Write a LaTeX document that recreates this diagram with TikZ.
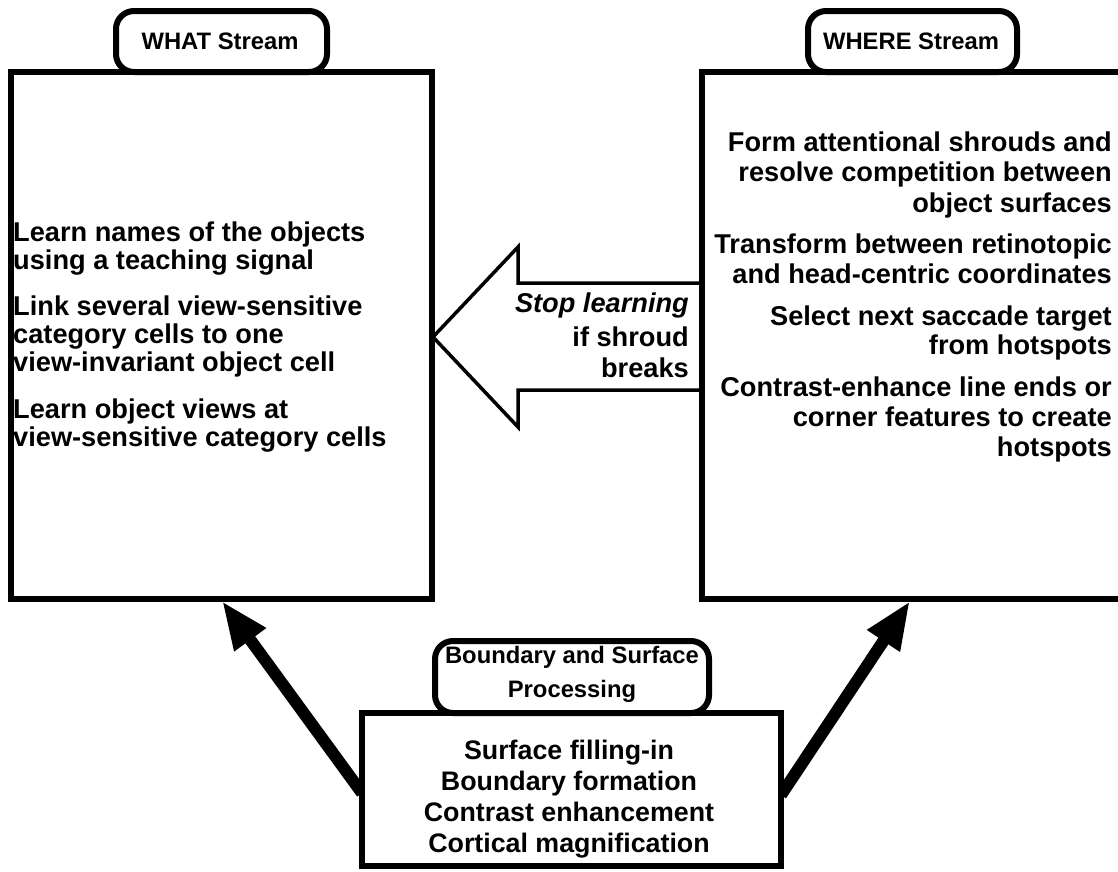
\documentclass[tikz,border=0pt]{standalone}
\usepackage{fontspec}
\setmainfont{Liberation Sans}
\usetikzlibrary{arrows.meta}

\begin{document}
\begin{tikzpicture}[x=1pt,y=-1pt,
  panel/.style={line width=5.5pt},
  titlebox/.style={draw,line width=6pt,rounded corners=18pt,fill=white},
  titletext/.style={inner sep=0pt,font=\fontsize{23.8}{34}\selectfont\bfseries},
  bodyfont/.style={inner sep=0pt,font=\fontsize{27.2}{28}\selectfont\bfseries},
  bodyL/.style={bodyfont,anchor=base west},
  bodyR/.style={bodyfont,anchor=base east},
  bodyC/.style={inner sep=0pt,anchor=base,font=\fontsize{26.8}{28}\selectfont\bfseries},
  feed/.style={line width=12pt,-{Triangle[length=48pt,width=36pt]}},
  hollow/.style={draw,line width=3.5pt,fill=white,line join=miter}
]
\clip (0,0) rectangle (1118,871);

% coordinates of the panels
\coordinate (whatTL) at (11,72);
\coordinate (whatBR) at (432,599);
\coordinate (bspTL) at (362,713);
\coordinate (bspBR) at (781,866);

% feed-forward arrows from the bottom processing stage
\coordinate (fromL) at (362,793);
\coordinate (toL) at (222,601);
\coordinate (fromR) at (781,795);
\coordinate (toR) at (910,601);
\draw[feed] (fromL) -- (toL);
\draw[feed] (fromR) -- (toR);

% hollow feedback arrow between the streams
\draw[hollow] (702,283) -- (518,283) -- (518,247) -- (433,337) -- (518,427) -- (518,390) -- (702,390);

% WHAT panel
\draw[panel] (whatTL) rectangle (whatBR);
% WHERE panel (runs off the right edge)
\draw[panel] (1140,72) -- (702,72) -- (702,599) -- (1140,599);
% bottom panel
\draw[panel,fill=white] (bspTL) rectangle (bspBR);

% title tabs
\draw[titlebox] (116,11) rectangle (327,72);
\node[titletext,anchor=base] (whatT) at (220,49) {WHAT Stream};
\draw[titlebox] (808,11) rectangle (1017,72);
\node[titletext,anchor=base] (whereT) at (911,49) {WHERE Stream};
\draw[titlebox] (435,641) rectangle (709,713);
\node[titletext,anchor=base] (bspT1) at (572,663) {Boundary and Surface};
\node[titletext,anchor=base] (bspT2) at (572,697) {Processing};

% WHAT stream text
\node[bodyL] (w1) at (13,241) {Learn names of the objects};
\node[bodyL] (w2) at (13,269) {using a teaching signal};
\node[bodyL] (w3) at (13,315) {Link several view-sensitive};
\node[bodyL] (w4) at (13,343) {category cells to one};
\node[bodyL] (w5) at (13,371) {view-invariant object cell};
\node[bodyL] (w6) at (13,418) {Learn object views at};
\node[bodyL] (w7) at (13,446) {view-sensitive category cells};

% WHERE stream text
\node[bodyR] (r1) at (1112,151) {Form attentional shrouds and};
\node[bodyR] (r2) at (1112,181) {resolve competition between};
\node[bodyR] (r3) at (1112,212) {object surfaces};
\node[bodyR] (r4) at (1112,253) {Transform between retinotopic};
\node[bodyR] (r5) at (1112,283) {and head-centric coordinates};
\node[bodyR] (r6) at (1112,325) {Select next saccade target};
\node[bodyR] (r7) at (1112,354) {from hotspots};
\node[bodyR] (r8) at (1112,396) {Contrast-enhance line ends or};
\node[bodyR] (r9) at (1112,426) {corner features to create};
\node[bodyR] (r10) at (1112,456) {hotspots};

% feedback arrow label
\node[bodyR] (s1) at (689,312) {\itshape Stop learning};
\node[bodyR] (s2) at (689,346) {if shroud};
\node[bodyR] (s3) at (689,377) {breaks};

% bottom stage text
\node[bodyC] (b1) at (569,759) {Surface filling-in};
\node[bodyC] (b2) at (569,790) {Boundary formation};
\node[bodyC] (b3) at (569,821) {Contrast enhancement};
\node[bodyC] (b4) at (569,852) {Cortical magnification};
\end{tikzpicture}
\end{document}
